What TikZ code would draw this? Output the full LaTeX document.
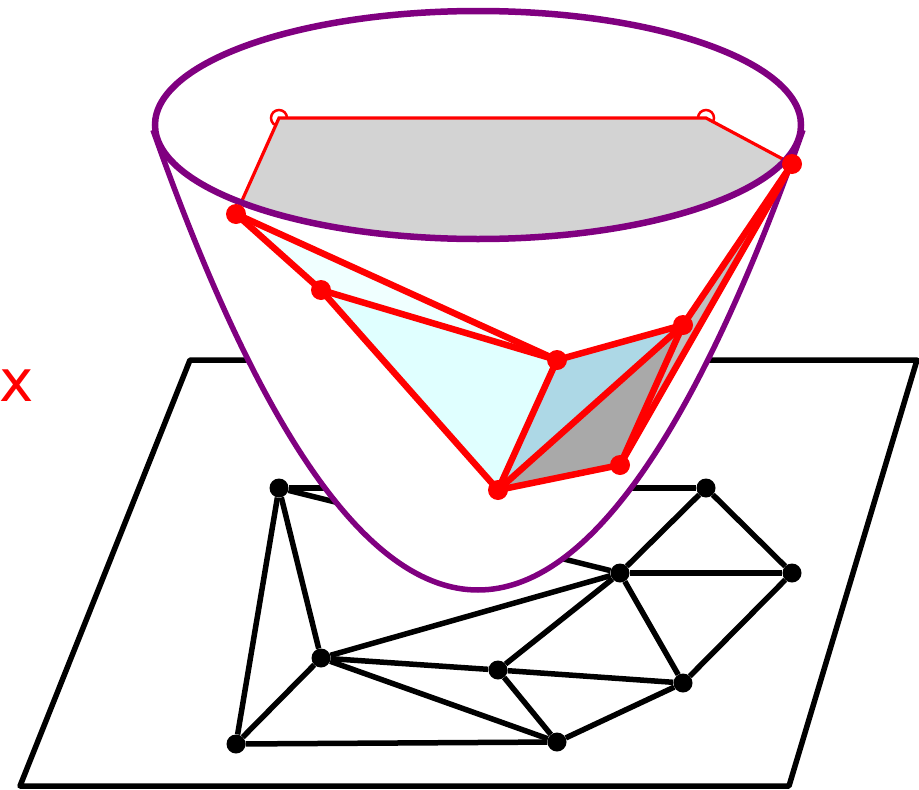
\documentclass[tikz,border=0pt]{standalone}
\usepackage{fontspec}
\setmainfont{DejaVu Sans}
\usepackage{xcolor}
\usetikzlibrary{positioning}
\definecolor{bowl}{HTML}{800080}
\definecolor{capgray}{HTML}{D3D3D3}
\definecolor{facea}{HTML}{F0FFFF}
\definecolor{faceb}{HTML}{E0FFFF}
\definecolor{facec}{HTML}{ADD8E6}
\definecolor{faced}{HTML}{A9A9A9}
\definecolor{facee}{HTML}{C0C0C0}
\tikzset{
  dot/.style={circle, fill=black, inner sep=0pt, minimum size=19pt},
  reddot/.style={circle, fill=red, inner sep=0pt, minimum size=20pt},
  opendot/.style={circle, draw=red, fill=white, line width=2.5pt, inner sep=0pt, minimum size=16pt},
  meshedge/.style={draw=black, line width=5.5pt},
  rededge/.style={draw=red, line width=6.5pt, line cap=round},
  thinedge/.style={draw=red, line width=3.2pt},
}

\begin{document}
\begin{tikzpicture}[x=1pt, y=-1pt]
  \useasboundingbox (0,0) rectangle (919,790);
  % plane
  \draw[line width=5.5pt, line join=round] (190,360) -- (917,360) -- (789,786) -- (20,786) -- cycle;
  % mesh on the plane
  \node[dot] (a) at (279,488) {};
  \node[dot] (b) at (706,488) {};
  \node[dot] (c) at (620,573) {};
  \node[dot] (d) at (792,573) {};
  \node[dot] (e) at (321,658) {};
  \node[dot] (f) at (498,670) {};
  \node[dot] (g) at (683,683) {};
  \node[dot] (h) at (236,744) {};
  \node[dot] (i) at (557,742) {};
  \draw[meshedge] (a) -- (b);
  \draw[meshedge] (a) -- (c);
  \draw[meshedge] (a) -- (e);
  \draw[meshedge] (a) -- (h);
  \draw[meshedge] (b) -- (c);
  \draw[meshedge] (b) -- (d);
  \draw[meshedge] (c) -- (d);
  \draw[meshedge] (c) -- (e);
  \draw[meshedge] (c) -- (f);
  \draw[meshedge] (c) -- (g);
  \draw[meshedge] (d) -- (g);
  \draw[meshedge] (e) -- (f);
  \draw[meshedge] (e) -- (h);
  \draw[meshedge] (e) -- (i);
  \draw[meshedge] (f) -- (g);
  \draw[meshedge] (f) -- (i);
  \draw[meshedge] (g) -- (i);
  \draw[meshedge] (h) -- (i);
  % paraboloid
  \draw[draw=bowl, fill=white, line width=5.5pt] (153,130) .. controls (369.67,743.33) and (586.33,743.33) .. (803,130);
  % lifted points
  \coordinate (hl) at (236,214);
  \coordinate (el) at (321,290);
  \coordinate (il) at (557,360);
  \coordinate (gl) at (683,325);
  \coordinate (dl) at (792,164);
  \coordinate (fl) at (498,490);
  \coordinate (cl) at (620,465);
  % cap seen through the rim
  \begin{scope}
    \clip (478,125) ellipse [x radius=323, y radius=114];
    \node[opendot] (al) at (279,118) {};
    \node[opendot] (bl) at (706,118) {};
    \fill[capgray] (al.center) -- (bl.center) -- (dl) -- (792,300) -- (236,300) -- (hl) -- cycle;
    \draw[thinedge] (hl) -- (al.center) -- (bl.center) -- (dl);
  \end{scope}
  \draw[draw=bowl, line width=6.5pt] (478,125) ellipse [x radius=323, y radius=114];
  % lower faces
  \fill[facea] (hl) -- (el) -- (il) -- cycle;
  \fill[faceb] (el) -- (il) -- (fl) -- cycle;
  \fill[facec] (il) -- (gl) -- (fl) -- cycle;
  \fill[faced] (fl) -- (gl) -- (cl) -- cycle;
  \fill[facee] (cl) -- (gl) -- (dl) -- cycle;
  \draw[rededge] (hl) -- (el);
  \draw[rededge] (hl) -- (il);
  \draw[rededge] (el) -- (il);
  \draw[rededge] (el) -- (fl);
  \draw[rededge] (il) -- (fl);
  \draw[rededge] (il) -- (gl);
  \draw[rededge] (fl) -- (gl);
  \draw[rededge] (fl) -- (cl);
  \draw[rededge] (cl) -- (gl);
  \draw[rededge] (cl) -- (dl);
  \draw[rededge] (gl) -- (dl);
  \node[reddot] (hr) at (hl) {};
  \node[reddot] (er) at (el) {};
  \node[reddot] (ir) at (il) {};
  \node[reddot] (gr) at (gl) {};
  \node[reddot] (dr) at (dl) {};
  \node[reddot] (fr) at (fl) {};
  \node[reddot] (cr) at (cl) {};
  \node[text=red, font=\fontsize{58}{58}\selectfont, inner sep=0pt] (lab) at (17,386) {x};
\end{tikzpicture}
\end{document}
